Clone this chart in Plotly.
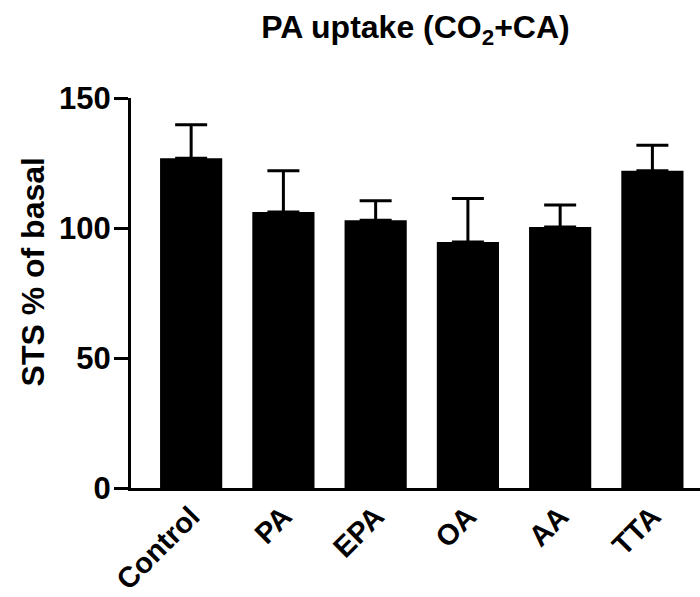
import plotly.graph_objects as go

# Treatment groups and measured STS uptake (% of basal), mean + SEM
groups = ["Control", "PA", "EPA", "OA", "AA", "TTA"]
mean_pct = [126.8, 106.2, 103.0, 94.6, 100.4, 122.0]
sem_pct = [12.9, 15.8, 7.5, 16.7, 8.4, 9.8]
y_ticks = [0, 50, 100, 150]

FONT = "Arial, Liberation Sans, Helvetica, sans-serif"

fig = go.Figure(
    go.Bar(
        x=groups,
        y=mean_pct,
        width=0.674,
        marker=dict(color="black", line=dict(width=0)),
        error_y=dict(
            type="data",
            symmetric=False,
            array=sem_pct,
            arrayminus=[0] * len(sem_pct),
            color="black",
            thickness=3,
            width=16,
        ),
    )
)

fig.update_layout(
    width=700,
    height=597,
    margin=dict(l=131, r=0, t=98, b=109),
    paper_bgcolor="white",
    plot_bgcolor="white",
    showlegend=False,
    title=dict(
        text="PA uptake (CO<sub>2</sub>+CA)",
        x=0.5,
        xref="paper",
        xanchor="center",
        y=1 - 27 / 597,
        yref="container",
        yanchor="middle",
        font=dict(family=FONT, size=32, color="black", weight="bold"),
    ),
    annotations=[
        dict(
            text="STS % of basal",
            xref="paper",
            yref="paper",
            x=-0.172,
            y=0.553,
            xanchor="center",
            yanchor="middle",
            textangle=-90,
            showarrow=False,
            font=dict(family=FONT, size=32, color="black", weight="bold"),
        )
    ],
)

fig.update_xaxes(
    range=[-0.652, 5.516],
    automargin=False,
    showline=True,
    linecolor="black",
    linewidth=3,
    ticks="",
    tickangle=-45,
    ticklabelstandoff=-3,
    tickfont=dict(family=FONT, size=29, color="black", weight="bold"),
    showgrid=False,
    zeroline=False,
)

fig.update_yaxes(
    range=[0, 150],
    automargin=False,
    tickvals=y_ticks,
    showline=True,
    linecolor="black",
    linewidth=3,
    ticks="outside",
    ticklen=14,
    tickwidth=3,
    tickcolor="black",
    ticklabelstandoff=-3,
    tickfont=dict(family=FONT, size=31, color="black", weight="bold"),
    showgrid=False,
    zeroline=False,
)

fig.write_html("out.html")
